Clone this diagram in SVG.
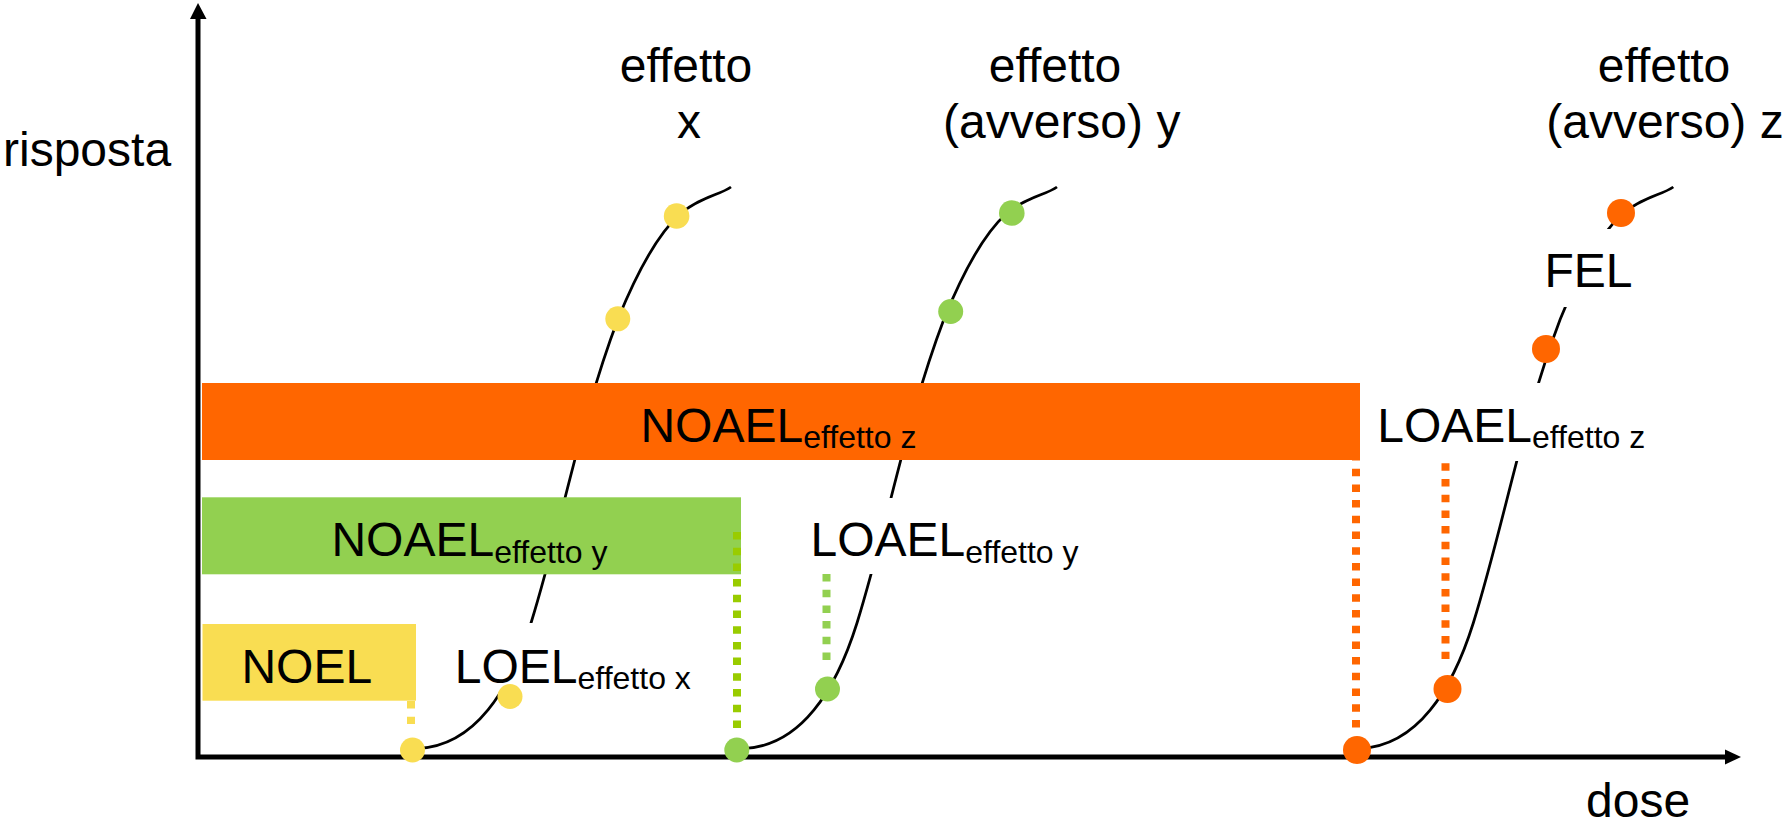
<svg xmlns="http://www.w3.org/2000/svg" width="1790" height="821" viewBox="0 0 1790 821">
  <style>
    text { font-family: "Liberation Sans", Arial, Helvetica, sans-serif; fill: #000; }
    .lbl { font-size: 48px; }
    .sub { font-size: 32px; }
    .ttl { font-size: 48px; text-anchor: middle; }
    .curve { fill: none; stroke: #000; stroke-width: 2.75; }
    .axis { fill: none; stroke: #000; stroke-width: 5; }
    .head { fill: #000; }
    .mask { fill: #fff; }
    .drop { fill: none; stroke-width: 8; stroke-dasharray: 7.5 8.2; }
    .yel { fill: #F9DD52; }
    .grn { fill: #92D050; }
    .org { fill: #FF6600; }
  </style>
  <defs>
    <!-- one dose-response sigmoid, reused for the three effects -->
    <path id="sigmoid" class="curve" d="M 418 748.5 C 475 746 510 690 531 623 C 562 523 580 419 618 319 C 640 265 660 232 680 214 C 700 197 720 195 731 187"/>
  </defs>

  <!-- axes -->
  <g id="axes">
    <path class="axis" d="M 198 759.5 V 18 M 196 757 H 1726"/>
    <polygon class="head" points="198,3 190,19 206.5,19"/>
    <polygon class="head" points="1741,757 1725,749.5 1725,764.5"/>
    <text class="lbl" x="3" y="166">risposta</text>
    <text class="lbl" x="1586" y="816.7">dose</text>
  </g>

  <!-- response curves -->
  <g id="curves">
    <use href="#sigmoid"/>
    <use href="#sigmoid" transform="translate(326,0)"/>
    <use href="#sigmoid" transform="translate(942.3,0)"/>
  </g>

  <!-- dose ranges -->
  <g id="noael-z">
    <rect class="org" x="202" y="383" width="1158" height="77"/>
    <text class="lbl" x="640.4" y="441.7">NOAEL<tspan class="sub" dy="6.6">effetto z</tspan></text>
  </g>
  <g id="noael-y">
    <rect class="grn" x="202" y="497.3" width="539" height="77"/>
    <text class="lbl" x="331.4" y="555.7">NOAEL<tspan class="sub" dy="7">effetto y</tspan></text>
  </g>
  <g id="noel">
    <rect class="yel" x="202.5" y="624" width="213.5" height="76.7"/>
    <text class="lbl" x="241.4" y="682.7">NOEL</text>
  </g>

  <!-- opaque label boxes -->
  <g id="loel">
    <rect class="mask" x="445" y="623" width="260" height="68"/>
    <text class="lbl" x="454.8" y="682.7">LOEL<tspan class="sub" dy="6.4">effetto x</tspan></text>
  </g>
  <g id="loael-y">
    <rect class="mask" x="800" y="498" width="292" height="76"/>
    <text class="lbl" x="810.5" y="556">LOAEL<tspan class="sub" dy="7">effetto y</tspan></text>
  </g>
  <g id="loael-z">
    <rect class="mask" x="1368" y="383" width="290" height="78"/>
    <text class="lbl" x="1377.2" y="441.7">LOAEL<tspan class="sub" dy="6.6">effetto z</tspan></text>
  </g>
  <g id="fel">
    <rect class="mask" x="1538" y="229" width="104" height="78"/>
    <text class="lbl" x="1544.5" y="287.3">FEL</text>
  </g>

  <!-- drop lines to the dose axis -->
  <g id="drops">
    <path class="drop" stroke="#F9DD52" d="M 411 701 V 724" stroke-dasharray="7.5 7"/>
    <path class="drop" stroke="#99CC00" d="M 737 532 V 728.5"/>
    <path class="drop" stroke="#92D050" d="M 826.5 574 V 662"/>
    <path class="drop" stroke="#FF6600" d="M 1356 453 V 732"/>
    <path class="drop" stroke="#FF6600" d="M 1445.5 463.3 V 659"/>
  </g>

  <!-- points on the curves -->
  <g id="points-x">
    <circle class="yel" cx="412.5" cy="750" r="12.5"/>
    <circle class="yel" cx="510" cy="696.5" r="12.5"/>
    <circle class="yel" cx="617.8" cy="318.8" r="12.5"/>
    <circle class="yel" cx="676.6" cy="216" r="12.8"/>
  </g>
  <g id="points-y">
    <circle class="grn" cx="736.8" cy="750" r="12.5"/>
    <circle class="grn" cx="827.5" cy="689" r="12.5"/>
    <circle class="grn" cx="950.7" cy="311.5" r="12.5"/>
    <circle class="grn" cx="1011.8" cy="213" r="12.8"/>
  </g>
  <g id="points-z">
    <circle class="org" cx="1357" cy="750" r="14"/>
    <circle class="org" cx="1447.5" cy="689" r="14"/>
    <circle class="org" cx="1546" cy="349" r="14"/>
    <circle class="org" cx="1621" cy="213" r="14"/>
  </g>

  <!-- effect titles -->
  <g id="title-x">
    <text class="ttl" x="686" y="81.7">effetto</text>
    <text class="ttl" x="689" y="138.3">x</text>
  </g>
  <g id="title-y">
    <text class="ttl" x="1055" y="81.7">effetto</text>
    <text class="ttl" x="1061.7" y="138.3">(avverso) y</text>
  </g>
  <g id="title-z">
    <text class="ttl" x="1664" y="81.7">effetto</text>
    <text class="ttl" x="1665" y="138.3">(avverso) z</text>
  </g>
</svg>
